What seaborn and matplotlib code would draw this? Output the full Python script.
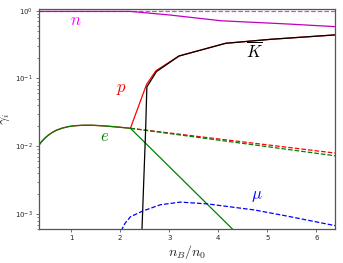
import numpy as np
import matplotlib
matplotlib.use("Agg")
import matplotlib.pyplot as plt
import seaborn as sns

# 데이터
x_e_low = [0.34, 0.40, 0.47, 0.54, 0.62, 0.70, 0.82, 0.95, 1.09, 1.25, 1.43,
           1.60, 1.77, 1.95, 2.21]
y_e_low = [0.0102, 0.0117, 0.0132, 0.0146, 0.0160, 0.0172, 0.0185, 0.0195,
           0.0201, 0.0204, 0.0204, 0.0201, 0.0197, 0.0192, 0.0184]

x_e_sol = [2.21, 4.40]
y_e_sol = [0.0184, 0.00050]
x_e_dash = [2.21, 6.40]
y_e_dash = [0.0184, 0.0072]

x_p_sol = [2.21, 2.54, 2.73, 3.20, 4.15, 5.07, 6.40]
y_p_sol = [0.0184, 0.082, 0.130, 0.215, 0.330, 0.378, 0.440]
x_p_dash = [2.21, 6.40]
y_p_dash = [0.0184, 0.0079]

x_k = [2.43, 2.52, 2.545, 2.74, 3.20, 4.15, 5.07, 6.40]
y_k = [0.00029, 0.0174, 0.075, 0.126, 0.214, 0.330, 0.378, 0.440]

x_n_sol = [0.34, 1.5, 2.21, 3.03, 4.05, 5.41, 6.40]
y_n_sol = [0.975, 0.975, 0.975, 0.86, 0.71, 0.636, 0.58]
x_n_dash = [0.34, 6.40]
y_n_dash = [0.985, 0.985]

x_mu = [2.00, 2.04, 2.10, 2.21, 2.45, 2.82, 3.23, 3.78, 4.73, 5.41, 6.40]
y_mu = [0.00045, 0.00060, 0.00073, 0.00091, 0.00110, 0.00137, 0.00150,
        0.00141, 0.00115, 0.00093, 0.00067]

sns.set_theme(style="ticks")
plt.rcParams['font.family'] = ['DejaVu Sans']
plt.rcParams['mathtext.fontset'] = 'cm'

fig = plt.figure(figsize=(3.43, 2.63), dpi=100)
ax = fig.add_axes([0.114, 0.129, 0.863, 0.837])

lw = 0.9
def draw(x, y, color, ls='-'):
    sns.lineplot(x=x, y=y, color=color, linestyle=ls, lw=lw, ax=ax,
                 sort=False, estimator=None)

draw(x_n_dash, y_n_dash, '#d24bd2', '--')
draw(x_n_sol, y_n_sol, '#bf00bf')
draw(x_p_dash, y_p_dash, 'red', '--')
draw(x_e_dash, y_e_dash, 'green', '--')
draw(x_e_low, y_e_low, 'red')
draw(x_p_sol, y_p_sol, 'red')
draw(x_e_low, y_e_low, 'green')
draw(x_e_sol, y_e_sol, 'green')
draw(x_k, y_k, 'black')
draw(x_mu, y_mu, 'blue', '--')

ax.set_yscale('log')
ax.set_xlim(0.35, 6.38)
ax.set_ylim(6.0e-4, 1.06)
ax.set_xticks([1, 2, 3, 4, 5, 6])

ax.tick_params(axis='both', which='major', labelsize=5, length=2.5, width=0.6,
               color='#555555', pad=2)
ax.tick_params(axis='y', which='minor', length=1.5, width=0.5, color='#555555')
for s in ax.spines.values():
    s.set_color('#555555')
    s.set_linewidth(0.9)

ax.set_xlabel(r'$n_B/n_0$', fontsize=10, labelpad=1)
ax.set_ylabel(r'$\gamma_i$', fontsize=10)
ax.yaxis.set_label_coords(-0.09, 0.5)

ax.text(1.09, 0.73, r'$n$', color='#ff00ff', fontsize=12, ha='center', va='center')
ax.text(2.03, 0.072, r'$p$', color='red', fontsize=12, ha='center', va='center')
ax.text(1.68, 0.0142, r'$e$', color='green', fontsize=12, ha='center', va='center')
ax.text(4.74, 0.25, r'$\overline{K}$', color='black', fontsize=12, ha='center', va='center')
ax.text(4.78, 0.00191, r'$\mu$', color='blue', fontsize=12, ha='center', va='center')

fig.savefig('out.png', dpi=100)
